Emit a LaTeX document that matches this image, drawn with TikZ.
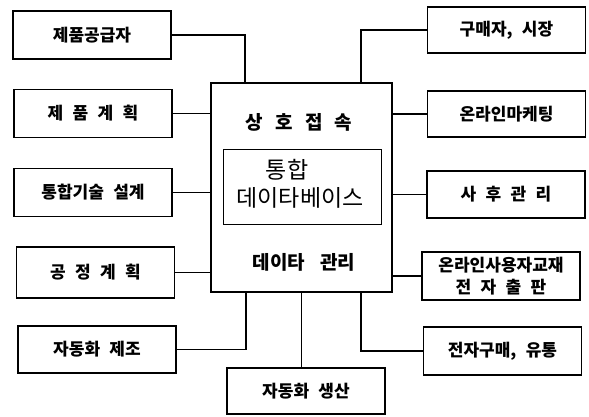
\documentclass[tikz,border=0pt]{standalone}
\usepackage{fontspec}
\setmainfont{Noto Sans CJK KR}
\newcommand{\wgap}{\hspace{0.55em}}
\begin{document}
\begin{tikzpicture}[x=1pt,y=-1pt,
    unit/.style ={rectangle, draw, line width=1.3pt, minimum width=158pt,
        minimum height=48pt, inner sep=0pt, align=center,
        font=\fontsize{17}{21}\selectfont\bfseries},
    title/.style ={font=\fontsize{19}{22}\selectfont\bfseries},
    base/.style ={font=\fontsize{23}{26}\selectfont},
    link/.style ={line width=1.3pt}]
   \useasboundingbox (0,0) rectangle (589,416);
   \node[unit, minimum width=181pt, minimum height=209pt] (C) at (301.5,187.5) {};
   \node[unit, minimum height=75pt, line width=1pt] (DB) at (302,186.5) {};
   \node[title] (acc) at (299,122) {상\hspace{0.65em}호\hspace{0.65em}접\hspace{0.65em}속};
   \node[base] (db1) at (287,170) {통합};
   \node[base] (db2) at (300,198) {데이타베이스};
   \node[title] (mgt) at (304,262) {데이타\hspace{0.8em}관리};
   \node[unit] (L1) at (92,35)      {제품공급자};
   \node[unit] (L2) at (93,113.5)   {제\wgap 품\wgap 계\wgap 획};
   \node[unit] (L3) at (93,192.5)   {통합기술\wgap 설계};
   \node[unit, minimum height=51pt] (L4) at (95.5,272.5) {공\wgap 정\wgap 계\wgap 획};
   \node[unit, minimum height=47pt] (L5) at (97,349.5)   {자동화\wgap 제조};
   \node[unit, minimum height=46pt] (B)  at (306,391)    {자동화\wgap 생산};
   \node[unit, minimum height=46pt] (R1) at (506.5,30)   {구매자,\wgap 시장};
   \node[unit, minimum height=46pt] (R2) at (506.5,114)  {온라인마케팅};
   \node[unit, minimum height=47pt] (R3) at (506,194.5)  {사\wgap 후\wgap 관\wgap 리};
   \node[unit, minimum height=48pt, font=\fontsize{17}{22}\selectfont\bfseries] (R4) at (501,276) {온라인사용자교재\\전\wgap 자\wgap 출\wgap 판};
   \node[unit] (R5) at (502.5,351)  {전자구매,\wgap 유통};
   \draw[link] (L1.east) -| ([xshift=-56.5pt]C.north);
   \draw[link] (L2.east) -- (C.west |- L2.east);
   \draw[link] (L3.east) -- (C.west |- L3.east);
   \draw[link] (L4.east) -- (C.west |- L4.east);
   \draw[link] (L5.east) -| ([xshift=-55.5pt]C.south);
   \draw[link] (C.south) -- (C.south |- B.north);
   \draw[link] ([xshift=59.5pt]C.north) |- (R1.west);
   \draw[link] (R2.west) -- (C.east |- R2.west);
   \draw[link] (R3.west) -- (C.east |- R3.west);
   \draw[link] (R4.west) -- (C.east |- R4.west);
   \draw[link] ([xshift=59.5pt]C.south) |- (R5.west);
 \end{tikzpicture}
\end{document}
